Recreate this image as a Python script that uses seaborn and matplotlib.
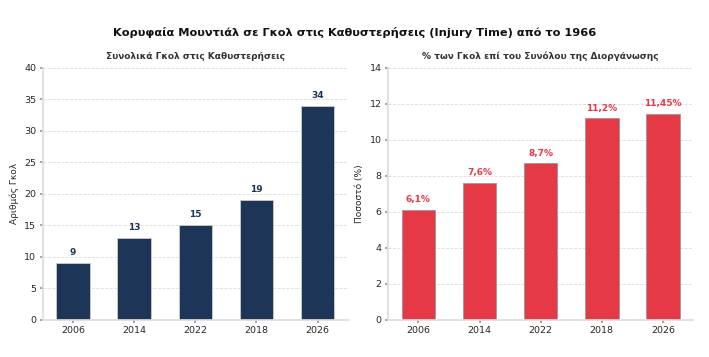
import numpy as np
import matplotlib
matplotlib.use("Agg")
import matplotlib.pyplot as plt
import seaborn as sns
import pandas as pd

years = ['2006', '2014', '2022', '2018', '2026']
goals = [9, 13, 15, 19, 34]
percent = [6.1, 7.6, 8.7, 11.2, 11.45]
percent_labels = ['6,1%', '7,6%', '8,7%', '11,2%', '11,45%']

navy = '#1d3557'
red = '#e63946'

sns.set_theme(style='whitegrid')
plt.rcParams['font.family'] = ['DejaVu Sans']

df = pd.DataFrame({'year': years, 'goals': goals, 'percent': percent})

fig, axes = plt.subplots(1, 2, figsize=(7.09, 3.57), dpi=100)

ax = axes[0]
sns.barplot(data=df, x='year', y='goals', color=navy, width=0.55,
            edgecolor='#cccccc', linewidth=0.6, saturation=1, ax=ax)
ax.set_ylim(0, 40)
ax.set_yticks(range(0, 41, 5))
ax.set_title('Συνολικά Γκολ στις Καθυστερήσεις', fontsize=6.5, fontweight='bold', color='#333333', pad=6)
ax.set_ylabel('Αριθμός Γκολ', fontsize=6.5)
ax.set_xlabel('')
for i, v in enumerate(goals):
    ax.text(i, v + 0.9, str(v), ha='center', va='bottom', fontsize=6.5, fontweight='bold', color=navy)

ax = axes[1]
sns.barplot(data=df, x='year', y='percent', color=red, width=0.55,
            edgecolor='#999999', linewidth=0.6, saturation=1, ax=ax)
ax.set_ylim(0, 14)
ax.set_yticks(range(0, 15, 2))
ax.set_title('% των Γκολ επί του Συνόλου της Διοργάνωσης', fontsize=6.5, fontweight='bold', color='#333333', pad=6)
ax.set_ylabel('Ποσοστό (%)', fontsize=6.5)
ax.set_xlabel('')
for i, v in enumerate(percent):
    ax.text(i, v + 0.3, percent_labels[i], ha='center', va='bottom', fontsize=6.5, fontweight='bold', color=red)

for ax in axes:
    ax.grid(axis='x', visible=False)
    ax.grid(axis='y', linestyle='--', color='#dddddd', linewidth=0.6)
    ax.tick_params(labelsize=6.8, length=2.5, left=True, bottom=True, color='#999999', pad=2)
    for s in ['top', 'right']:
        ax.spines[s].set_visible(False)
    for s in ['left', 'bottom']:
        ax.spines[s].set_color('#dddddd')
    ax.set_axisbelow(True)

fig.suptitle('Κορυφαία Μουντιάλ σε Γκολ στις Καθυστερήσεις (Injury Time) από το 1966',
             fontsize=8.2, fontweight='bold', y=0.925, color='#111111')
fig.subplots_adjust(left=0.06, right=0.978, top=0.81, bottom=0.105, wspace=0.13)
fig.savefig('out.png', dpi=100)
